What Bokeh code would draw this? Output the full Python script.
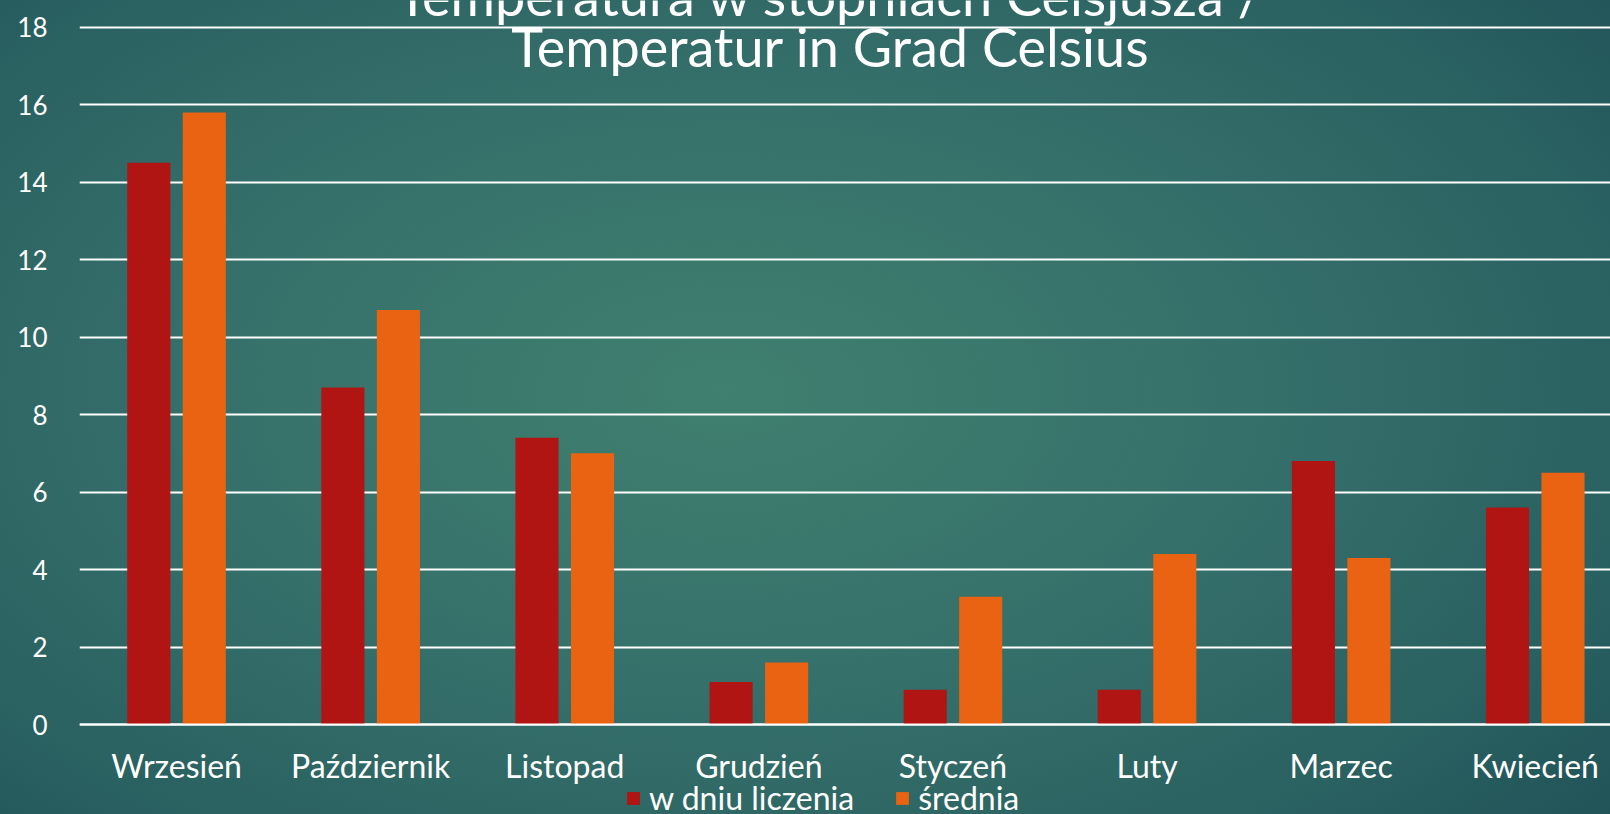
from bokeh.plotting import figure
from bokeh.models import (Range1d, FixedTicker, Legend, LegendItem, ColumnDataSource,
                          GlobalInlineStyleSheet)
from bokeh.core.properties import value
from bokeh.transform import dodge
from bokeh.embed import file_html
from bokeh.resources import INLINE

# ---- data ----
months = ["Wrzesień", "Październik", "Listopad", "Grudzień",
          "Styczeń", "Luty", "Marzec", "Kwiecień"]
w_dniu_liczenia = [14.5, 8.7, 7.4, 1.1, 0.9, 0.9, 6.8, 5.6]
srednia = [15.8, 10.7, 7.0, 1.6, 3.3, 4.4, 4.3, 6.5]
series_names = ["w dniu liczenia", "średnia"]
y_ticks = [0, 2, 4, 6, 8, 10, 12, 14, 16, 18]
title_lines = ["Temperatura w stopniach Celsjusza /", "Temperatur in Grad Celsius"]

# ---- styling ----
RED = "#B01513"
ORANGE = "#EA6312"
FONT = "Lato"
BG = ("radial-gradient(ellipse 75% 85% at 45% 48%, #40806f 0%, #356f6a 45%, "
      "#2a6161 75%, #1f5157 100%)")

pos = [i + 0.5 for i in range(len(months))]
src = ColumnDataSource(dict(x=pos, a=w_dniu_liczenia, b=srednia))

W, H = 1610, 814
LEFT = 79
ZERO_Y = 724            # pixel row of the zero line
cat_px = 194.1          # pixel width of one month group
px_per_unit = 38.74     # pixels per degree

p = figure(width=W, height=H,
           x_range=Range1d(0, (W - LEFT) / cat_px),
           y_range=Range1d(-(H - ZERO_Y) / px_per_unit, ZERO_Y / px_per_unit),
           output_backend="svg", toolbar_location=None,
           min_border_left=LEFT, min_border_right=0, min_border_top=0,
           min_border_bottom=0)

p.styles = {"background": BG}
p.stylesheets = [GlobalInlineStyleSheet(css="html, body { background: #2a6161; }")]
p.background_fill_color = None
p.border_fill_color = None
p.outline_line_color = None

bw = 0.222
r1 = p.vbar(x=dodge("x", -0.143, range=p.x_range), top="a", width=bw, bottom=0,
            source=src, fill_color=RED, line_color=None)
r2 = p.vbar(x=dodge("x", 0.143, range=p.x_range), top="b", width=bw, bottom=0,
            source=src, fill_color=ORANGE, line_color=None)

# grid
p.xgrid.grid_line_color = None
p.ygrid.ticker = FixedTicker(ticks=y_ticks)
p.ygrid.grid_line_color = "white"
p.ygrid.grid_line_width = 2

# axes
p.yaxis.ticker = FixedTicker(ticks=y_ticks)
p.yaxis.axis_line_color = None
p.yaxis.major_tick_line_color = None
p.yaxis.minor_tick_line_color = None
p.yaxis.major_label_standoff = 26
p.yaxis.major_label_text_color = "white"
p.yaxis.major_label_text_font = FONT
p.yaxis.major_label_text_font_size = "26px"

p.xaxis.fixed_location = 0
p.xaxis.ticker = FixedTicker(ticks=pos)
p.xaxis.major_label_overrides = {x: m for x, m in zip(pos, months)}
p.xaxis.axis_line_color = "white"
p.xaxis.axis_line_width = 2
p.xaxis.major_tick_line_color = None
p.xaxis.minor_tick_line_color = None
p.xaxis.major_label_standoff = 15
p.xaxis.major_label_text_color = "white"
p.xaxis.major_label_text_font = FONT
p.xaxis.major_label_text_font_size = "32px"

# title (first line partly cut at the top, as in the reference)
title_x = (830 - LEFT) / cat_px
p.text(x=[title_x, title_x],
       y=[(ZERO_Y + 5) / px_per_unit, (ZERO_Y - 46) / px_per_unit],
       text=title_lines, text_align="center", text_baseline="alphabetic",
       text_color="white", text_font=value(FONT), text_font_size="54px")

legend = Legend(items=[LegendItem(label=series_names[0], renderers=[r1]),
                       LegendItem(label=series_names[1], renderers=[r2])],
                orientation="horizontal", location=(625 - LEFT, -3),
                background_fill_alpha=0, border_line_alpha=0,
                label_text_color="white", label_text_font=FONT,
                label_text_font_size="32px", glyph_width=16, glyph_height=16,
                label_standoff=8, spacing=40, padding=0, margin=0)
p.add_layout(legend, "center")

open("out.html", "w").write(file_html(p, INLINE))
